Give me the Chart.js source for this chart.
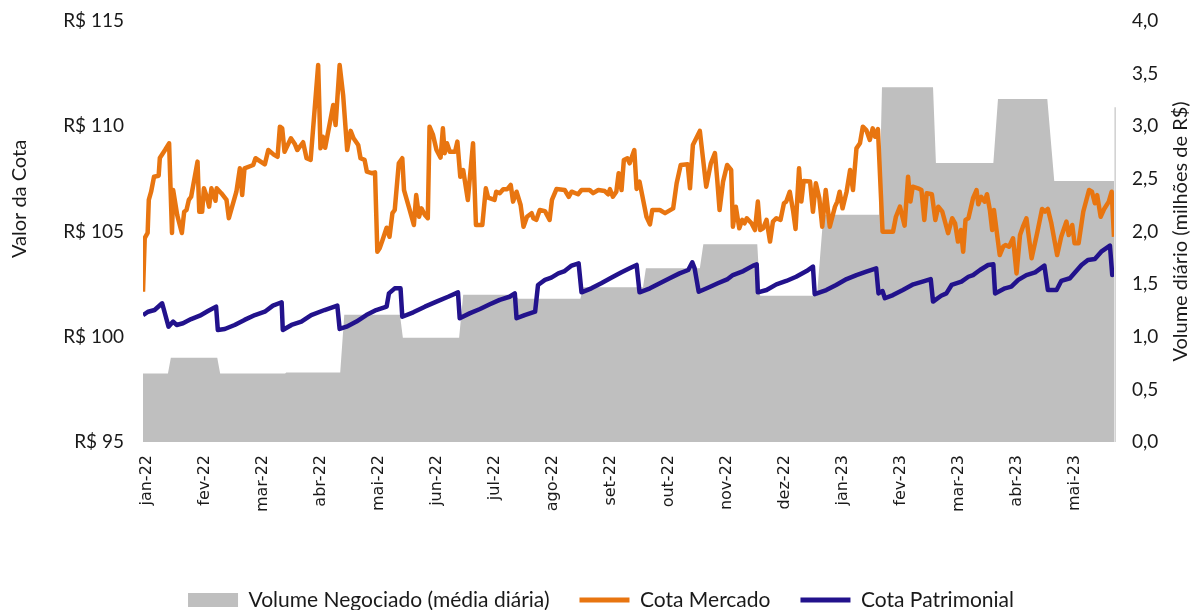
<!DOCTYPE html>
<html>
<head>
<meta charset="utf-8">
<script src="https://cdn.jsdelivr.net/npm/chart.js@4.4.1/dist/chart.umd.min.js"></script>
<style>
  html, body { margin: 0; padding: 0; background: #fff; }
  #wrap { width: 1202px; height: 610px; position: relative; }
</style>
</head>
<body>
<div id="wrap"><canvas id="myChart"></canvas></div>
<script>
// x values are in months counted from jan-22 (0 = jan-22 tick)
const monthLabels = ['jan-22', 'fev-22', 'mar-22', 'abr-22', 'mai-22', 'jun-22', 'jul-22', 'ago-22',
    'set-22', 'out-22', 'nov-22', 'dez-22', 'jan-23', 'fev-23', 'mar-23', 'abr-23', 'mai-23'];

const leftTicks = [95, 100, 105, 110, 115];
const rightTicks = [0, 0.5, 1, 1.5, 2, 2.5, 3, 3.5, 4];

// volume negociado (média diária), milhões de R$
const volumePts = [[-0.07,0.65],[0.36,0.65],[0.41,0.80],[1.21,0.80],[1.26,0.65],[2.38,0.65],[2.40,0.66],[3.33,0.66],
    [3.40,1.21],[4.36,1.21],[4.41,0.99],[5.38,0.99],[5.45,1.40],[6.34,1.40],[6.40,1.36],[7.47,1.36],[7.52,1.47],
    [8.55,1.47],[8.60,1.65],[9.53,1.65],[9.59,1.88],[10.52,1.88],[10.57,1.39],[11.55,1.39],[11.66,2.16],[12.62,2.16],
    [12.67,3.37],[13.55,3.37],[13.60,2.65],[14.59,2.65],[14.67,3.26],[15.52,3.26],[15.64,2.48],[16.67,2.48]];

// thin light edge seen at the far right of the volume area
const volumeEdgePts = [[16.69,0],[16.69,3.18]];

// cota mercado (R$)
const mercadoPts = [[-0.07,102.14],[-0.04,104.69],[0.01,104.93],[0.03,106.50],[0.07,106.89],[0.12,107.60],[0.20,107.65],[0.22,108.49],[0.31,108.87],[0.38,109.19],
    [0.43,104.93],[0.45,106.97],[0.52,105.78],[0.60,104.93],[0.64,105.94],[0.68,106.02],[0.72,106.50],[0.76,106.65],[0.87,108.32],[0.90,105.94],
    [0.95,105.94],[0.98,107.05],[1.03,106.65],[1.07,106.18],[1.11,107.05],[1.18,106.46],[1.20,107.05],[1.28,106.82],[1.37,106.50],[1.41,105.63],
    [1.54,106.89],[1.60,108.00],[1.64,106.73],[1.68,108.00],[1.83,108.16],[1.87,108.48],[2.03,108.19],[2.09,108.87],[2.19,108.64],[2.25,108.55],
    [2.29,109.98],[2.33,109.90],[2.37,108.79],[2.48,109.43],[2.55,109.14],[2.59,108.87],[2.69,109.24],[2.75,108.48],[2.82,108.40],[2.95,112.91],
    [2.99,108.95],[3.03,109.50],[3.07,108.98],[3.21,111.01],[3.25,110.06],[3.32,112.91],[3.38,111.49],[3.45,108.87],[3.51,109.78],[3.56,109.43],
    [3.64,109.11],[3.68,108.48],[3.75,108.40],[3.79,107.84],[3.87,107.77],[3.93,107.81],[3.97,104.04],[4.01,104.20],[4.06,104.60],[4.13,105.18],
    [4.18,104.75],[4.23,105.87],[4.27,106.02],[4.34,108.24],[4.40,108.48],[4.43,106.97],[4.52,106.10],[4.60,105.31],[4.64,106.73],[4.69,105.70],
    [4.73,106.10],[4.79,105.78],[4.84,105.63],[4.87,109.98],[4.93,109.59],[4.99,108.87],[5.06,108.51],[5.10,109.90],[5.13,108.72],[5.17,109.19],
    [5.22,108.79],[5.31,108.79],[5.35,109.27],[5.40,107.60],[5.45,107.92],[5.53,106.50],[5.62,109.19],[5.67,105.31],[5.78,105.31],[5.84,107.05],
    [5.88,106.61],[5.99,106.50],[6.02,106.89],[6.08,106.82],[6.14,107.01],[6.21,107.01],[6.27,107.21],[6.31,106.42],[6.37,106.89],[6.44,106.26],
    [6.49,105.23],[6.55,105.70],[6.63,105.87],[6.66,105.63],[6.71,105.55],[6.77,106.02],[6.86,105.97],[6.94,105.55],[6.98,106.50],[7.06,107.02],
    [7.20,106.97],[7.27,106.65],[7.32,106.89],[7.43,106.77],[7.49,106.97],[7.63,106.97],[7.69,106.82],[7.78,106.97],[7.89,106.92],[7.95,106.77],
    [7.98,107.01],[8.03,106.65],[8.09,106.89],[8.13,107.77],[8.18,106.97],[8.22,108.40],[8.28,108.48],[8.32,108.24],[8.40,108.87],[8.44,107.02],
    [8.49,107.37],[8.61,105.70],[8.67,105.34],[8.71,106.02],[8.84,106.02],[8.93,105.87],[9.07,106.10],[9.13,107.29],[9.20,108.16],[9.32,108.19],
    [9.36,107.05],[9.41,109.11],[9.53,109.78],[9.64,107.13],[9.72,108.24],[9.79,108.72],[9.83,107.45],[9.87,106.02],[9.93,107.37],[10.00,108.16],
    [10.07,107.92],[10.10,105.23],[10.15,106.18],[10.21,105.15],[10.26,105.55],[10.30,105.39],[10.34,105.63],[10.42,105.39],[10.48,105.07],[10.53,106.42],
    [10.57,105.07],[10.62,105.15],[10.68,105.55],[10.74,104.52],[10.79,105.47],[10.85,105.63],[10.92,105.55],[10.98,106.34],[11.02,106.42],[11.08,106.89],
    [11.14,105.94],[11.18,105.12],[11.24,108.00],[11.28,106.42],[11.32,107.40],[11.43,107.37],[11.48,105.94],[11.53,107.29],[11.59,106.58],[11.64,105.23],
    [11.70,106.97],[11.77,105.23],[11.86,106.18],[11.90,106.42],[11.94,106.89],[11.99,106.10],[12.06,106.89],[12.12,107.92],[12.17,106.97],[12.23,108.95],
    [12.29,109.19],[12.34,109.98],[12.40,109.82],[12.46,109.35],[12.51,109.90],[12.55,109.50],[12.60,109.87],[12.68,104.99],[12.86,104.99],[12.91,105.70],
    [12.98,106.18],[13.06,105.28],[13.12,107.60],[13.16,106.42],[13.20,107.13],[13.29,107.05],[13.35,106.97],[13.40,105.55],[13.44,106.82],[13.53,106.77],
    [13.59,105.55],[13.64,106.18],[13.71,105.94],[13.81,104.92],[13.88,105.63],[13.93,105.39],[13.98,104.52],[14.03,105.07],[14.07,104.04],[14.11,105.55],
    [14.16,105.63],[14.24,106.58],[14.30,106.97],[14.33,106.29],[14.38,106.65],[14.44,106.42],[14.48,106.77],[14.53,106.02],[14.57,105.07],[14.60,106.02],
    [14.70,103.88],[14.76,104.28],[14.80,104.36],[14.86,104.28],[14.93,104.68],[14.99,103.01],[15.05,104.83],[15.10,105.23],[15.16,105.63],[15.25,103.73],
    [15.35,104.99],[15.43,106.07],[15.48,105.94],[15.53,106.07],[15.59,105.39],[15.69,103.88],[15.76,104.75],[15.85,105.47],[15.89,104.83],[15.95,105.31],
    [15.99,104.44],[16.06,104.44],[16.14,105.94],[16.24,106.97],[16.29,106.89],[16.34,106.34],[16.38,106.73],[16.44,105.70],[16.50,106.07],[16.58,106.42],
    [16.63,106.89],[16.67,104.75]];

// cota patrimonial (R$)
const patrimonialPts = [[-0.07,101.03],[0.02,101.19],[0.13,101.27],[0.26,101.59],[0.37,100.48],[0.45,100.72],[0.51,100.56],[0.62,100.64],[0.76,100.84],[0.91,101.00],
    [1.05,101.22],[1.19,101.43],[1.22,100.32],[1.34,100.37],[1.51,100.56],[1.68,100.80],[1.86,101.03],[2.03,101.19],[2.17,101.48],[2.32,101.64],
    [2.34,100.32],[2.49,100.56],[2.66,100.72],[2.83,101.03],[3.06,101.27],[3.28,101.48],[3.32,100.37],[3.44,100.48],[3.61,100.72],[3.78,101.03],
    [3.95,101.27],[4.13,101.43],[4.17,102.06],[4.27,102.30],[4.37,102.30],[4.40,100.95],[4.59,101.16],[4.79,101.43],[4.99,101.67],[5.19,101.90],
    [5.36,102.11],[5.39,100.88],[5.56,101.11],[5.74,101.32],[5.91,101.54],[6.08,101.75],[6.25,101.90],[6.34,102.06],[6.37,100.88],[6.51,101.03],
    [6.69,101.19],[6.74,102.46],[6.86,102.70],[6.97,102.81],[7.09,103.01],[7.20,103.12],[7.32,103.38],[7.44,103.49],[7.49,102.11],[7.66,102.30],
    [7.83,102.54],[8.01,102.81],[8.18,103.06],[8.32,103.25],[8.44,103.41],[8.49,102.11],[8.67,102.30],[8.84,102.54],[9.01,102.78],[9.18,103.01],
    [9.33,103.17],[9.40,103.54],[9.44,103.25],[9.51,102.14],[9.67,102.33],[9.84,102.54],[10.01,102.74],[10.10,102.93],[10.28,103.12],[10.45,103.38],
    [10.51,103.44],[10.53,102.11],[10.68,102.22],[10.85,102.49],[11.02,102.65],[11.19,102.85],[11.37,103.12],[11.48,103.33],[11.51,102.02],[11.71,102.22],
    [11.88,102.46],[12.06,102.74],[12.23,102.93],[12.40,103.09],[12.57,103.25],[12.61,102.06],[12.68,102.17],[12.72,101.83],[12.86,101.98],[13.03,102.22],
    [13.21,102.49],[13.37,102.62],[13.51,102.74],[13.55,101.67],[13.69,101.95],[13.78,102.06],[13.87,102.46],[14.04,102.62],[14.16,102.85],[14.24,102.93],
    [14.36,103.17],[14.50,103.41],[14.59,103.44],[14.62,102.06],[14.79,102.30],[14.90,102.38],[15.02,102.70],[15.16,102.93],[15.31,103.06],[15.47,103.38],
    [15.53,102.22],[15.68,102.22],[15.76,102.65],[15.91,102.78],[16.11,103.41],[16.22,103.65],[16.34,103.69],[16.45,104.04],[16.60,104.33],[16.64,102.93],
    [16.67,103.09]];

const toXY = pts => pts.map(p => ({ x: p[0], y: p[1] }));

const textColor = '#1a1a1a';
const labelFont = 'Lato';

// axis titles drawn by hand so the right one reads bottom-to-top like the original
const axisTitles = {
    id: 'axisTitles',
    afterDraw(chart) {
        const ctx = chart.ctx;
        const area = chart.chartArea;
        ctx.save();
        ctx.font = '20px ' + labelFont;
        ctx.fillStyle = textColor;
        ctx.textAlign = 'center';
        ctx.textBaseline = 'middle';
        ctx.translate(20, area.top + 178);
        ctx.rotate(-Math.PI / 2);
        ctx.fillText('Valor da Cota', 0, 0);
        ctx.restore();

        ctx.save();
        ctx.font = '20px ' + labelFont;
        ctx.fillStyle = textColor;
        ctx.textAlign = 'center';
        ctx.textBaseline = 'middle';
        ctx.translate(1181, (area.top + area.bottom) / 2);
        ctx.rotate(-Math.PI / 2);
        ctx.fillText('Volume diário (milhões de R$)', 0, 0);
        ctx.restore();
    }
};

// keep the legend short so it sits at the very bottom like the original
const legendHeight = {
    id: 'legendHeight',
    beforeLayout(chart) {
        const lg = chart.legend;
        if (lg && !lg._fixedFit) {
            const fit = lg.fit.bind(lg);
            lg.fit = function () {
                fit();
                this.height = 50.5;
            };
            lg._fixedFit = true;
        }
    }
};

// fixed width for the value axes, and no extra top/bottom padding from the tick labels
const fixWidth = w => scale => {
    scale.width = w;
    scale.paddingTop = 0;
    scale.paddingBottom = 0;
};

const ctx = document.getElementById('myChart').getContext('2d');

const chart = new Chart(ctx, {
    type: 'line',
    data: {
        datasets: [
            {
                label: 'Volume Negociado (média diária)',
                data: toXY(volumePts),
                yAxisID: 'y1',
                fill: 'origin',
                backgroundColor: '#BFBFBF',
                borderColor: '#BFBFBF',
                borderWidth: 0,
                pointRadius: 0,
                order: 10
            },
            {
                label: 'Cota Mercado',
                data: toXY(mercadoPts),
                yAxisID: 'y',
                borderColor: '#E87510',
                backgroundColor: '#E87510',
                borderWidth: 4.5,
                borderJoinStyle: 'round',
                pointRadius: 0,
                fill: false,
                order: 2
            },
            {
                label: 'Cota Patrimonial',
                data: toXY(patrimonialPts),
                yAxisID: 'y',
                borderColor: '#22128C',
                backgroundColor: '#22128C',
                borderWidth: 4.5,
                borderJoinStyle: 'round',
                pointRadius: 0,
                fill: false,
                order: 1
            },
            {
                label: 'edge',
                data: toXY(volumeEdgePts),
                yAxisID: 'y1',
                borderColor: '#CFCFCF',
                borderWidth: 1.5,
                pointRadius: 0,
                fill: false,
                clip: false,
                order: 11
            }
        ]
    },
    options: {
        responsive: true,
        maintainAspectRatio: false,
        animation: false,
        layout: {
            padding: { top: 21, left: 0, right: 0, bottom: 0 }
        },
        plugins: {
            tooltip: { enabled: false },
            legend: {
                position: 'bottom',
                labels: {
                    usePointStyle: true,
                    pointStyleWidth: 50,
                    boxWidth: 50,
                    boxHeight: 14,
                    padding: 30,
                    color: textColor,
                    font: { family: labelFont, size: 21 },
                    filter: item => item.datasetIndex < 3,
                    sort: (a, b) => a.datasetIndex - b.datasetIndex,
                    generateLabels(chart) {
                        const items = Chart.defaults.plugins.legend.labels.generateLabels(chart);
                        items.forEach(item => {
                            const ds = chart.data.datasets[item.datasetIndex];
                            if (ds.fill === 'origin') {
                                item.pointStyle = 'rect';
                                item.fillStyle = ds.backgroundColor;
                                item.strokeStyle = ds.backgroundColor;
                                item.lineWidth = 0;
                            } else {
                                item.pointStyle = 'line';
                                item.strokeStyle = ds.borderColor;
                                item.lineWidth = 5;
                            }
                        });
                        return items;
                    }
                }
            }
        },
        scales: {
            x: {
                type: 'linear',
                min: -0.07,
                max: 16.67,
                afterBuildTicks: scale => {
                    scale.ticks = monthLabels.map((_, i) => ({ value: i }));
                },
                afterFit: scale => { scale.height = 117.5; },
                ticks: {
                    autoSkip: false,
                    minRotation: 90,
                    maxRotation: 90,
                    padding: 13,
                    color: textColor,
                    font: { family: 'DejaVu Sans', size: 16 },
                    callback: v => monthLabels[v]
                },
                grid: { display: false, drawTicks: false },
                border: { display: false }
            },
            y: {
                type: 'linear',
                position: 'left',
                min: 95,
                max: 115,
                afterBuildTicks: scale => {
                    scale.ticks = leftTicks.map(v => ({ value: v }));
                },
                afterFit: fixWidth(143),
                ticks: {
                    padding: 19,
                    color: textColor,
                    font: { family: labelFont, size: 19 },
                    callback: v => 'R$ ' + v
                },
                grid: { display: false, drawTicks: false },
                border: { display: false }
            },
            y1: {
                type: 'linear',
                position: 'right',
                min: 0,
                max: 4,
                afterBuildTicks: scale => {
                    scale.ticks = rightTicks.map(v => ({ value: v }));
                },
                afterFit: fixWidth(88),
                ticks: {
                    padding: 18,
                    color: textColor,
                    font: { family: labelFont, size: 19 },
                    callback: v => v.toFixed(1).replace('.', ',')
                },
                grid: { display: false, drawTicks: false },
                border: { display: false }
            }
        }
    },
    plugins: [axisTitles, legendHeight]
});
</script>
</body>
</html>
